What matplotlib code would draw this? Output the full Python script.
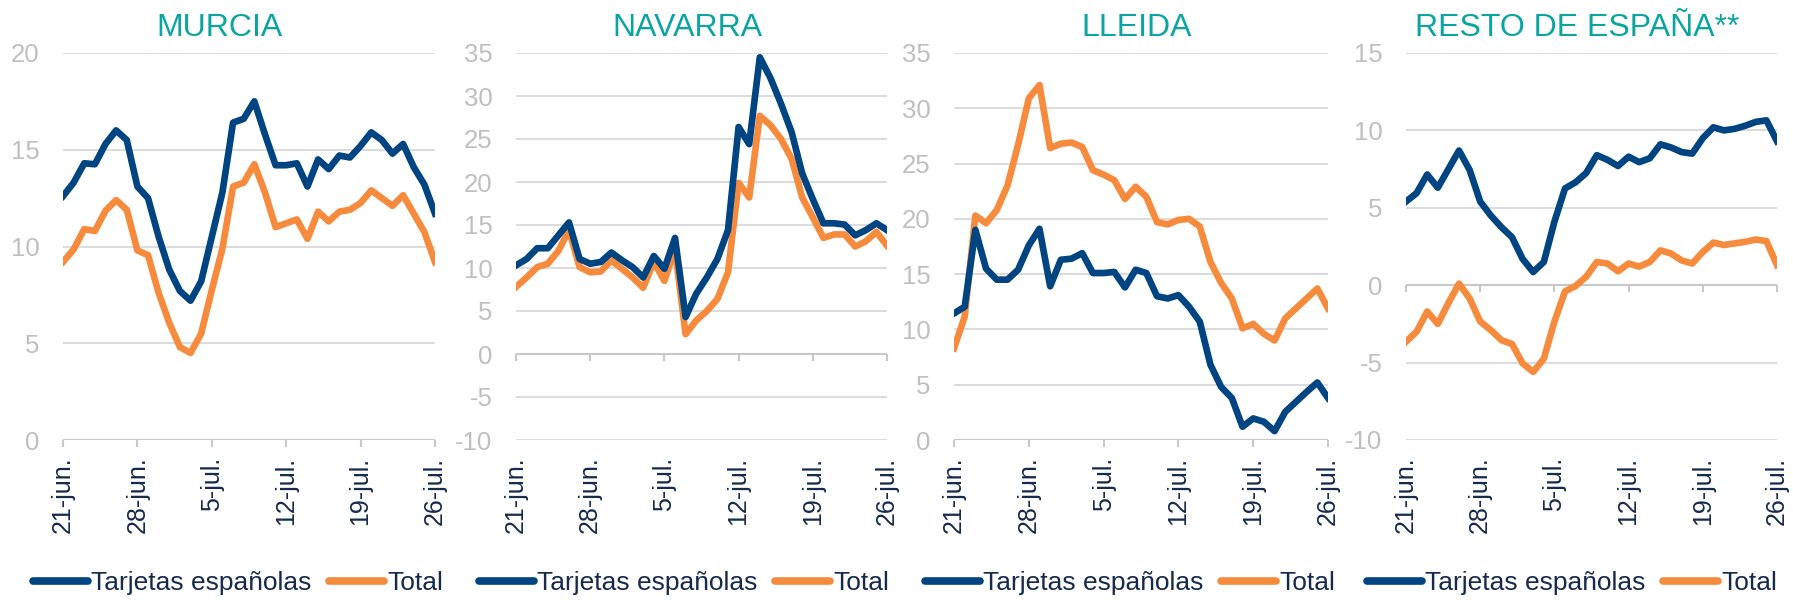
import matplotlib
matplotlib.use("Agg")
import matplotlib.pyplot as plt
import numpy as np
import pandas as pd

plt.rcParams["font.family"] = ["Liberation Sans", "DejaVu Sans"]
plt.rcParams["axes.unicode_minus"] = False

# daily data, 21-jun to 26-jul
dates = pd.date_range("2020-06-21", "2020-07-26", freq="D")
tick_dates = pd.date_range("2020-06-21", "2020-07-26", freq="7D")
tick_labels = ["21-jun.", "28-jun.", "5-jul.", "12-jul.", "19-jul.", "26-jul."]

titles = ["MURCIA", "NAVARRA", "LLEIDA", "RESTO DE ESPAÑA**"]

murcia_esp = [12.6, 13.3, 14.3, 14.25, 15.3, 16.0, 15.5, 13.1, 12.5, 10.5, 8.8, 7.7,
              7.2, 8.2, 10.5, 12.8, 16.4, 16.6, 17.5, 15.8, 14.2, 14.2, 14.3, 13.1,
              14.5, 14.0, 14.7, 14.6, 15.2, 15.9, 15.5, 14.8, 15.3, 14.1, 13.2, 11.7]
murcia_tot = [9.2, 9.85, 10.9, 10.8, 11.85, 12.4, 11.9, 9.8, 9.55, 7.6, 6.05, 4.8,
              4.5, 5.5, 7.75, 9.9, 13.1, 13.3, 14.25, 12.8, 11.0, 11.2, 11.4, 10.4,
              11.8, 11.3, 11.8, 11.9, 12.25, 12.9, 12.5, 12.1, 12.65, 11.7, 10.75, 9.2]

navarra_esp = [10.3, 11.05, 12.3, 12.3, 13.8, 15.3, 11.05, 10.5, 10.7, 11.8, 10.9, 10.1,
               8.9, 11.4, 9.9, 13.5, 4.3, 7.0, 8.9, 11.05, 14.4, 26.4, 24.4, 34.5,
               32.1, 29.1, 25.8, 21.0, 18.0, 15.2, 15.2, 15.05, 13.8, 14.4, 15.2, 14.4]
navarra_tot = [7.8, 8.9, 10.1, 10.5, 12.0, 14.4, 10.1, 9.5, 9.6, 10.9, 9.9, 8.9,
               7.7, 10.7, 8.5, 12.2, 2.3, 3.9, 5.0, 6.4, 9.5, 19.9, 18.2, 27.7,
               26.6, 25.0, 22.7, 18.2, 15.9, 13.5, 13.9, 13.9, 12.5, 13.1, 14.2, 12.6]

lleida_esp = [11.45, 12.05, 19.0, 15.5, 14.5, 14.5, 15.4, 17.6, 19.1, 13.9, 16.3, 16.4,
              16.9, 15.1, 15.1, 15.2, 13.8, 15.4, 15.1, 13.0, 12.8, 13.1, 12.05, 10.7,
              6.8, 4.8, 3.8, 1.2, 1.95, 1.65, 0.8, 2.55, 3.45, 4.35, 5.2, 3.8]
lleida_tot = [8.3, 11.15, 20.3, 19.6, 20.8, 23.0, 26.7, 30.9, 32.1, 26.4, 26.8, 26.9,
              26.5, 24.4, 24.0, 23.5, 21.8, 22.9, 22.0, 19.7, 19.5, 19.9, 20.0, 19.3,
              16.1, 14.2, 12.8, 10.1, 10.5, 9.6, 9.0, 11.0, 11.9, 12.8, 13.7, 11.9]

resto_esp = [5.4, 5.95, 7.15, 6.3, 7.5, 8.7, 7.45, 5.4, 4.5, 3.75, 3.1, 1.7,
             0.85, 1.5, 4.1, 6.25, 6.65, 7.25, 8.4, 8.1, 7.7, 8.3, 7.95, 8.2,
             9.1, 8.9, 8.6, 8.5, 9.5, 10.2, 10.0, 10.1, 10.3, 10.55, 10.65, 9.3]
resto_tot = [-3.65, -3.0, -1.7, -2.5, -1.15, 0.1, -0.85, -2.35, -2.9, -3.55, -3.8, -5.05,
             -5.6, -4.75, -2.35, -0.4, -0.05, 0.55, 1.5, 1.4, 0.9, 1.4, 1.2, 1.5,
             2.25, 2.05, 1.6, 1.4, 2.15, 2.75, 2.6, 2.7, 2.8, 2.95, 2.85, 1.3]

series_esp = [murcia_esp, navarra_esp, lleida_esp, resto_esp]
series_tot = [murcia_tot, navarra_tot, lleida_tot, resto_tot]
ylims = [(0, 20), (-10, 35), (0, 35), (-10, 15)]

# colours
BLUE = "#004481"
ORANGE = "#F78B3D"
TEAL = "#0AA5A0"
GRID = "#D9D9D9"
YTXT = "#BFBFBF"
DARK = "#172A4C"

fig = plt.figure(figsize=(17.93, 6), dpi=100)

# axes boxes in pixels (left, right)
boxes = [(63, 435), (516, 887), (954, 1328), (1406, 1777)]
title_x = [0.422, 0.461, 0.487, 0.461]
legend_cx = [238, 684, 1130, 1572]
W, H = 1793, 600
top_px, bot_px = 53, 440

for i in range(4):
    l, r = boxes[i]
    ax = fig.add_axes([l / W, 1 - bot_px / H, (r - l) / W, (bot_px - top_px) / H])
    ax.plot(dates, series_esp[i], color=BLUE, lw=4.8, label="Tarjetas españolas",
            solid_joinstyle="round", zorder=3)
    ax.plot(dates, series_tot[i], color=ORANGE, lw=4.8, label="Total",
            solid_joinstyle="round", zorder=2)

    y0, y1 = ylims[i]
    ax.set_ylim(y0, y1)
    ax.set_xlim(dates[0], dates[-1])
    ax.set_yticks(np.arange(y0, y1 + 1, 5))
    ax.grid(axis="y", color=GRID, lw=1.3)
    ax.set_axisbelow(True)
    for s in ax.spines.values():
        s.set_visible(False)

    # zero axis with small ticks pointing down
    ax.axhline(0, color="#C8C8C8", lw=1.5, zorder=1)
    tick_len = (y1 - y0) * 7 / (bot_px - top_px)
    ax.vlines(tick_dates, -tick_len, 0, color="#C8C8C8", lw=1.5, clip_on=False)

    ax.set_xticks(tick_dates)
    ax.set_xticklabels(tick_labels, rotation=90, color=DARK, fontsize=18)
    ax.tick_params(axis="x", length=0, pad=12)
    ax.tick_params(axis="y", length=0, pad=17, labelcolor=YTXT, labelsize=18.5)

    ax.set_title(titles[i], color=TEAL, fontsize=23, x=title_x[i], pad=12)

    leg = ax.legend(loc="center", ncol=2, frameon=False, fontsize=19,
                    bbox_to_anchor=(legend_cx[i] / W, 1 - 583 / H),
                    bbox_transform=fig.transFigure, handlelength=2.1,
                    handletextpad=0.12, columnspacing=0.65, borderaxespad=0)
    for t in leg.get_texts():
        t.set_color(DARK)
    for h in leg.get_lines():
        h.set_solid_capstyle("round")
        h.set_linewidth(5.5)

fig.savefig("out.png", dpi=100)
